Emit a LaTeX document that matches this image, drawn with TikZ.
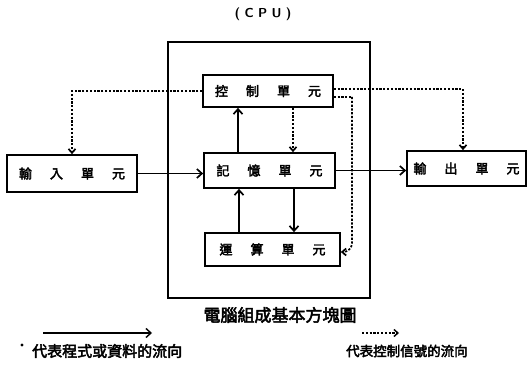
\documentclass[tikz,border=0pt]{standalone}
\usepackage{fontspec}
\newfontfamily\cjk[AutoFakeBold=3]{Noto Sans CJK TC}
\usetikzlibrary{arrows.meta,calc}
\newcommand{\gp}{\hspace{18pt}}
\begin{document}
\begin{tikzpicture}[x=1pt,y=-1pt, line width=1.7pt,
  unit/.style={draw, rectangle, inner sep=0pt, font=\cjk\bfseries\fontsize{13}{13}\selectfont},
  flow/.style={-{Straight Barb[length=5pt,width=9pt]}},
  ctl/.style={dash pattern=on 2.2pt off 1.6pt, -{Straight Barb[length=4pt,width=7pt]}}]
\useasboundingbox (0,0) rectangle (527,366);
% CPU frame
\node[draw, minimum width=202pt, minimum height=256pt, inner sep=0pt] (cpu) at (269,170) {};
\node[font=\sffamily\bfseries\fontsize{13}{13}\selectfont] (cpulbl) at (263,14) {(\,\,C\,\,P\,\,U\,\,)};
% units
\node[unit, minimum width=130pt, minimum height=32pt] (ctrl) at (268,91) {控\gp 制\gp 單\gp 元};
\node[unit, minimum width=131pt, minimum height=35pt] (mem) at (269.5,170.5) {記\gp 憶\gp 單\gp 元};
\node[unit, minimum width=135pt, minimum height=33pt] (alu) at (272.5,249.5) {運\gp 算\gp 單\gp 元};
\node[unit, minimum width=130pt, minimum height=37pt] (in) at (72,173.5) {輸\gp 入\gp 單\gp 元};
\node[unit, minimum width=119pt, minimum height=35pt] (out) at (466.5,168.5) {輸\gp 出\gp 單\gp 元};
% data flow
\draw[flow] (in.east) -- (mem.west |- in.east);
\draw[flow] (mem.east) -- (out.west |- mem.east);
\draw[flow] (mem.north -| 238,0) -- (ctrl.south -| 238,0);
\draw[flow] (mem.south -| 294,0) -- (alu.north -| 294,0);
\draw[flow] (alu.north -| 239,0) -- (mem.south -| 239,0);
% control flow
\coordinate (bend) at (352,97);
\draw[ctl] (ctrl.west) -| (in.north);
\draw[ctl] (ctrl.east |- 0,89) -| (out.north -| 463,0);
\draw[ctl] (ctrl.south -| 293,0) -- (mem.north -| 293,0);
\draw[dash pattern=on 2.2pt off 1.6pt] (ctrl.east |- bend) -- (bend) -- ++(0,1);
\draw[ctl, rounded corners=9pt] (bend) |- (alu.east |- 0,252);
% caption
\node[font=\cjk\bfseries\fontsize{17}{17}\selectfont] (title) at (280,315) {電腦組成基本方塊圖};
% legend
\coordinate (l1a) at (43,333);
\coordinate (l1b) at (152,333);
\coordinate (l2a) at (362,333);
\coordinate (l2b) at (399,333);
\draw[flow, line width=1.4pt] (l1a) -- (l1b);
\draw[ctl, line width=1.4pt] (l2a) -- (l2b);
\fill (22,345) circle (1.6pt);
\node[font=\cjk\bfseries\fontsize{15}{15}\selectfont, anchor=west] (leg1) at (28,351) {代表程式或資料的流向};
\node[font=\cjk\bfseries\fontsize{13.5}{13.5}\selectfont, anchor=west] (leg2) at (342,351) {代表控制信號的流向};
\end{tikzpicture}
\end{document}
